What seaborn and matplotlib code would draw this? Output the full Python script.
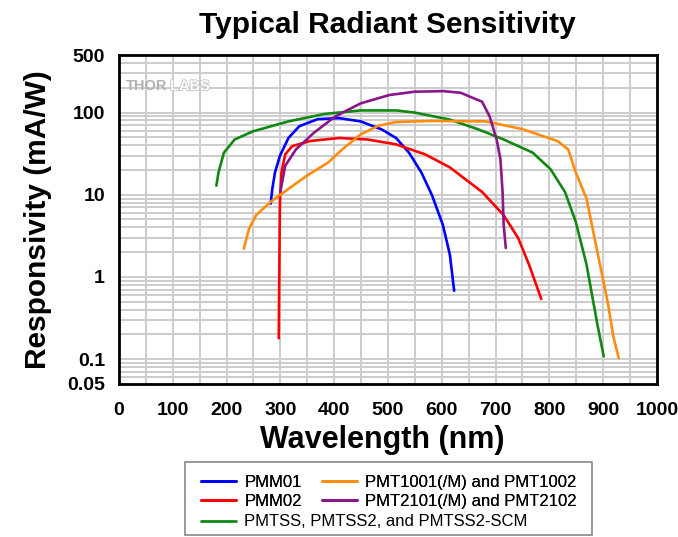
import numpy as np
import pandas as pd
import seaborn as sns
from matplotlib import pyplot as plt
from matplotlib import patheffects
from matplotlib.patches import Rectangle
from matplotlib.lines import Line2D
from matplotlib.ticker import FixedLocator, LogLocator, NullFormatter

# wavelength (nm) / responsivity (mA/W)
pmm01_nm = [282, 285, 290, 299, 315, 335, 369, 409, 449, 489, 515, 539, 562, 582, 602, 615, 623]
pmm01_r = [7.8, 11.8, 18.7, 29.6, 49, 68, 83, 85.5, 78, 62, 49, 32.5, 18.7, 9.8, 4.3, 1.87, 0.68]

pmm02_nm = [297, 298, 299, 302, 309, 322, 355, 409, 462, 515, 569, 615, 675, 715, 742, 762, 785]
pmm02_r = [0.18, 1.18, 7.45, 18.7, 31, 39, 45, 49, 47, 41, 31, 21.5, 10.8, 5.65, 2.97, 1.42, 0.54]

pmtss_nm = [181, 185, 195, 215, 249, 315, 382, 449, 515, 549, 615, 669, 715, 769, 802, 829, 849, 869, 889, 901]
pmtss_r = [12.9, 18.7, 32.5, 47, 59, 78, 96, 106, 106, 100, 82, 62, 47, 32.5, 20.5, 10.8, 4.7, 1.42, 0.27, 0.108]

pmt1001_nm = [232, 242, 255, 282, 315, 349, 389, 415, 449, 482, 515, 582, 682, 749, 815, 835, 849, 869, 889, 909, 919, 929]
pmt1001_r = [2.2, 3.9, 5.65, 8.2, 11.8, 17, 24.7, 35.6, 54, 69, 76.6, 79, 78, 63, 45, 35.6, 18.7, 9, 2.05, 0.47, 0.187, 0.103]

pmt2101_nm = [300, 309, 329, 362, 402, 449, 502, 549, 602, 635, 675, 689, 702, 709, 713, 715, 719]
pmt2101_r = [11, 22.5, 35.6, 56.5, 89.5, 129, 163, 179, 182, 174, 135, 89.5, 47, 27, 10.8, 4.3, 2.25]

labels = ['PMM01', 'PMM02', 'PMTSS, PMTSS2, and PMTSS2-SCM',
          'PMT1001(/M) and PMT1002', 'PMT2101(/M) and PMT2102']
colors = ['#0000ff', '#ff0000', '#118811', '#ff8c0f', '#8a168a']

xs = [pmm01_nm, pmm02_nm, pmtss_nm, pmt1001_nm, pmt2101_nm]
ys = [pmm01_r, pmm02_r, pmtss_r, pmt1001_r, pmt2101_r]

y_ticks = [0.05, 0.1, 1, 10, 100, 500]
y_ticklabels = ['0.05', '0.1', '1', '10', '100', '500']

df = pd.concat([pd.DataFrame({'wl': x, 'resp': y, 'model': lab})
                for x, y, lab in zip(xs, ys, labels)], ignore_index=True)

sns.set_style('white')
plt.rcParams['font.family'] = ['Liberation Sans', 'DejaVu Sans']
plt.rcParams['text.color'] = 'black'
plt.rcParams['axes.labelcolor'] = 'black'

fig = plt.figure(figsize=(6.78, 5.37), dpi=100)
ax = fig.add_axes([0.1755, 0.285, 0.7935, 0.6125])

sns.lineplot(data=df, x='wl', y='resp', hue='model', hue_order=labels,
             palette=colors, sort=False, estimator=None, linewidth=1.9,
             legend=False, ax=ax, zorder=3)

ax.set_yscale('log')
ax.set_xlim(0, 1000)
ax.set_ylim(0.05, 500)

ax.xaxis.set_major_locator(FixedLocator(np.arange(0, 1001, 100)))
ax.xaxis.set_minor_locator(FixedLocator(np.arange(50, 1000, 100)))
ax.yaxis.set_major_locator(FixedLocator(y_ticks))
ax.set_yticklabels(y_ticklabels)
ax.yaxis.set_minor_locator(LogLocator(base=10, subs=np.arange(2, 10)))
ax.yaxis.set_minor_formatter(NullFormatter())

ax.grid(True, which='both', color='#cccccc', linewidth=1.4, zorder=0)
ax.set_axisbelow(True)
for s in ax.spines.values():
    s.set_visible(True)
    s.set_color('black')
    s.set_linewidth(2)

ax.tick_params(which='major', direction='out', length=6, width=1.5,
               labelsize=14, colors='black')
ax.tick_params(axis='x', which='major', pad=7)
ax.tick_params(axis='y', which='major', pad=4)
ax.tick_params(which='minor', direction='out', length=3.5, width=1.2)
for t in ax.get_xticklabels() + ax.get_yticklabels():
    t.set_fontweight('bold')

ax.set_xlabel('Wavelength (nm)', fontsize=22, fontweight='bold', color='black')
ax.xaxis.set_label_coords(0.49, -0.125)
ax.set_ylabel('Responsivity (mA/W)', fontsize=21.5, fontweight='bold', color='black')
ax.yaxis.set_label_coords(-0.125, 0.5)
fig.text(0.572, 0.953, 'Typical Radiant Sensitivity', ha='center', va='center',
         fontsize=21.5, fontweight='bold', color='black')

# watermark
ax.text(0.012, 0.905, 'THOR', transform=ax.transAxes, fontsize=10.5,
        fontweight='bold', color='#b0b0b0', va='center', zorder=2)
ax.text(0.095, 0.905, 'LABS', transform=ax.transAxes, fontsize=10.5,
        fontweight='bold', color='white', va='center', zorder=2,
        path_effects=[patheffects.withStroke(linewidth=1.2, foreground='#c0c0c0')])

# legend: two columns plus one long row
h = [Line2D([], [], color=c, linewidth=2) for c in colors]
leg1 = fig.legend([h[0], h[1], h[3], h[4]], [labels[0], labels[1], labels[3], labels[4]],
                  ncol=2, loc='upper left', bbox_to_anchor=(0.277, 0.141),
                  frameon=False, fontsize=12, handlelength=2.1,
                  handletextpad=0.5, columnspacing=1.2, labelspacing=0.25,
                  borderpad=0.3, labelcolor='black')
fig.add_artist(leg1)
fig.legend([h[2]], [labels[2]], loc='upper left',
           bbox_to_anchor=(0.277, 0.141 - 0.074), frameon=False, fontsize=12,
           handlelength=2.1, handletextpad=0.5, borderpad=0.3, labelcolor='black')
fig.add_artist(Rectangle((0.273, 0.004), 0.6, 0.136, transform=fig.transFigure,
                         fill=False, edgecolor='#888888', linewidth=1.2))

fig.savefig('out.png', dpi=100)
